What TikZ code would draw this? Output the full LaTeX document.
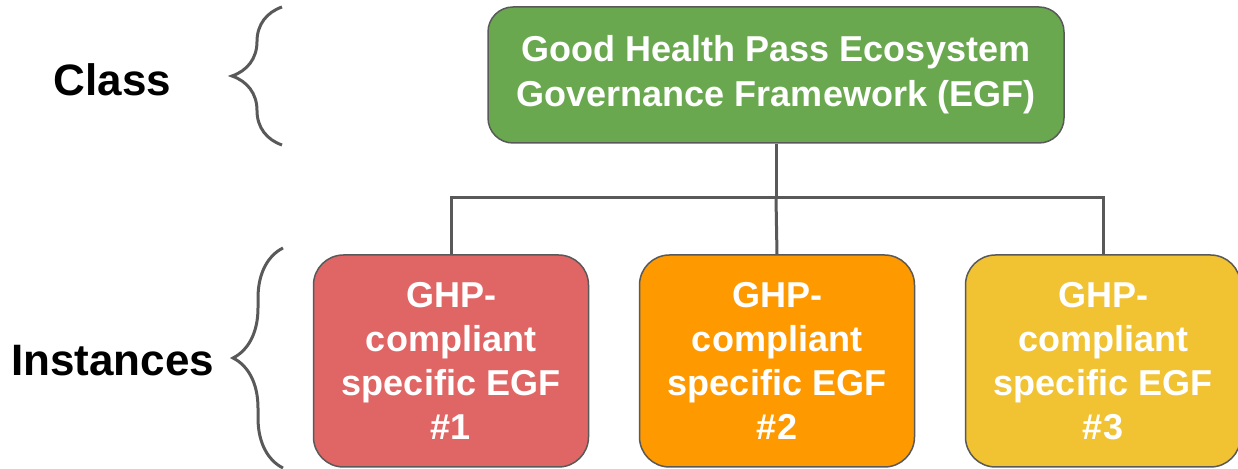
\documentclass[tikz,border=0pt]{standalone}
\usepackage{fontspec}
\setmainfont{Liberation Sans}
\usetikzlibrary{arrows,decorations.pathreplacing,positioning}
\definecolor{egfgreen}{HTML}{6AA84F}
\definecolor{egfred}{HTML}{E06666}
\definecolor{egforange}{HTML}{FF9900}
\definecolor{egfyellow}{HTML}{F1C232}
\definecolor{linegray}{HTML}{595959}
\tikzset{
    classbox/.style = {draw=linegray, line width=0.75pt, rectangle, rounded corners=12.5pt,
        fill=egfgreen, text=white, inner sep=0pt,
        minimum height=68pt, minimum width=288pt, align=center,
        font=\fontsize{18}{22.5}\selectfont\bfseries},
    instbox/.style = {draw=linegray, line width=0.75pt, rectangle, rounded corners=15pt,
        text=white, inner sep=0pt,
        minimum height=106pt, minimum width=137.5pt, align=center,
        font=\fontsize{18}{22}\selectfont\bfseries},
    level/.style = {font=\fontsize{22}{26}\selectfont\bfseries, inner sep=0pt},
    tree/.style = {draw=linegray, line width=1.5pt},
    bracket/.style = {draw=linegray, line width=1.5pt, decorate,
        decoration={brace, amplitude=25pt}}
}

\begin{document}
\begin{tikzpicture}[auto, node distance=163pt,>=latex']
    \useasboundingbox (0,0) rectangle (619pt,-234.5pt);
    \node [classbox] (egf) at (388pt,-37.5pt) {Good Health Pass Ecosystem\\Governance Framework (EGF)};
    \node [instbox, fill=egfred] (inst1) at (225.5pt,-180.5pt) {GHP-\\compliant\\specific EGF\\\#1};
    \node [instbox, fill=egforange, right of=inst1] (inst2) {GHP-\\compliant\\specific EGF\\\#2};
    \node [instbox, fill=egfyellow, right of=inst2] (inst3) {GHP-\\compliant\\specific EGF\\\#3};
    % tree lines
    \coordinate [below of=egf, node distance=61.5pt] (split);
    \draw [tree] (egf.south) -- (split);
    \draw [tree] (inst1.north) |- (split) -| (inst3.north);
    \draw [tree] (split) -- (inst2.north);
    % braces and labels
    \coordinate (classlo) at (141pt,-72.5pt);
    \coordinate (classhi) at (141pt,-3.5pt);
    \coordinate (instlo) at (141.5pt,-234pt);
    \coordinate (insthi) at (141.5pt,-124pt);
    \draw [bracket] (classlo) -- (classhi);
    \draw [bracket] (instlo) -- (insthi);
    \node [level] (class) at (56.25pt,-40pt) {Class};
    \node [level, left of=inst1, node distance=169.25pt] (instances) {Instances};
\end{tikzpicture}
\end{document}
